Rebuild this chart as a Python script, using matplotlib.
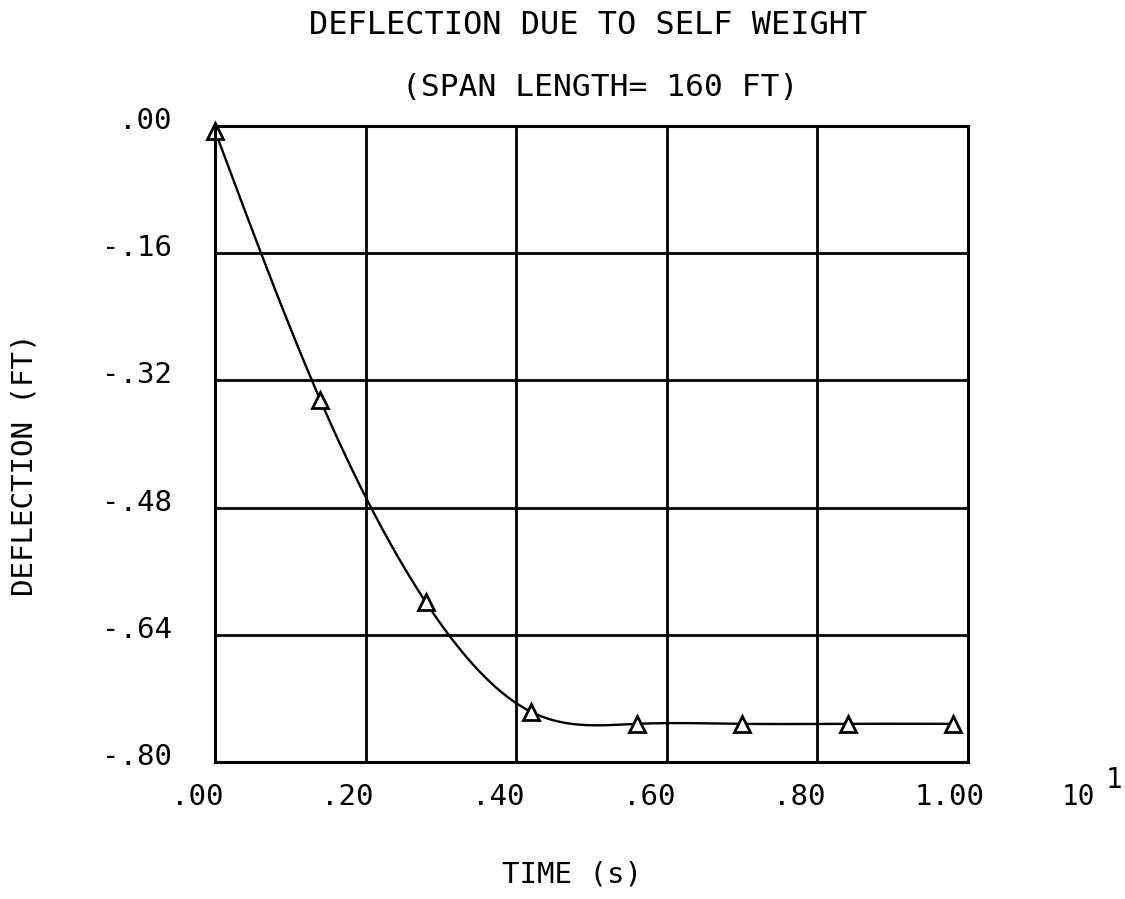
import numpy as np
import matplotlib.pyplot as plt
from matplotlib.transforms import ScaledTranslation

# --- Data: deflection at each time step (time in units of 10 s) ---
time = [0.00, 0.14, 0.28, 0.42, 0.56, 0.70, 0.84, 0.98]
deflection = [-0.006, -0.345, -0.599, -0.737, -0.752, -0.752, -0.752, -0.752]

x_ticks = [0.0, 0.2, 0.4, 0.6, 0.8, 1.0]
x_labels = ['.00', '.20', '.40', '.60', '.80', '1.00']
y_ticks = [0.0, -0.16, -0.32, -0.48, -0.64, -0.80]
y_labels = ['.00', '-.16', '-.32', '-.48', '-.64', '-.80']


def natural_spline(x, y, n=400):
    """Smooth curve through the points (natural cubic spline)."""
    x = np.asarray(x, float)
    y = np.asarray(y, float)
    k = len(x)
    h = np.diff(x)
    A = np.zeros((k, k))
    b = np.zeros(k)
    A[0, 0] = A[-1, -1] = 1.0
    for i in range(1, k - 1):
        A[i, i - 1] = h[i - 1]
        A[i, i] = 2 * (h[i - 1] + h[i])
        A[i, i + 1] = h[i]
        b[i] = 6 * ((y[i + 1] - y[i]) / h[i] - (y[i] - y[i - 1]) / h[i - 1])
    M = np.linalg.solve(A, b)
    xs = np.linspace(x[0], x[-1], n)
    idx = np.clip(np.searchsorted(x, xs) - 1, 0, k - 2)
    x0, x1 = x[idx], x[idx + 1]
    hh = x1 - x0
    t0, t1 = x1 - xs, xs - x0
    ys = (M[idx] * t0**3 + M[idx + 1] * t1**3) / (6 * hh) \
        + (y[idx] / hh - M[idx] * hh / 6) * t0 \
        + (y[idx + 1] / hh - M[idx + 1] * hh / 6) * t1
    return xs, ys


plt.rcParams['font.family'] = ['DejaVu Sans Mono']
W, H = 1125, 899
fig = plt.figure(figsize=(W / 100, H / 100), dpi=100)
ax = fig.add_axes([215 / W, 1 - 762 / H, (968 - 215) / W, (762 - 126) / H])

ax.set_xlim(0, 1.0)
ax.set_ylim(-0.80, 0.0)
ax.set_xticks(x_ticks)
ax.set_xticklabels(x_labels)
ax.set_yticks(y_ticks)
ax.set_yticklabels(y_labels)
ax.tick_params(length=0, labelsize=21)
ax.tick_params(axis='x', pad=15)
ax.tick_params(axis='y', pad=31)
ax.grid(True, color='black', linewidth=2.0)
for s in ax.spines.values():
    s.set_linewidth(2.2)

# shift tick labels a little (x labels left, y labels up)
for lab in ax.get_xticklabels():
    lab.set_transform(lab.get_transform() + ScaledTranslation(-18 / 100, 0, fig.dpi_scale_trans))
for lab in ax.get_yticklabels():
    lab.set_transform(lab.get_transform() + ScaledTranslation(0, 8 / 100, fig.dpi_scale_trans))

xs, ys = natural_spline(time, deflection)
ax.plot(xs, ys, color='black', linewidth=1.7, clip_on=False)
ax.plot(time, deflection, linestyle='none', marker='^', markersize=11,
        markerfacecolor='white', markeredgecolor='black', markeredgewidth=2.0,
        clip_on=False)

fig.text(588 / W, 1 - 26 / H, 'DEFLECTION DUE TO SELF WEIGHT', ha='center',
         va='center', fontsize=23)
fig.text(600 / W, 1 - 88 / H, '(SPAN LENGTH= 160 FT)', ha='center',
         va='center', fontsize=22.5)
fig.text(25 / W, 1 - 465 / H, 'DEFLECTION (FT)', ha='center', va='center',
         rotation=90, fontsize=21)
fig.text(572 / W, 1 - 875 / H, 'TIME (s)', ha='center', va='center', fontsize=21)
fig.text(1062 / W, 1 - 797 / H, '10', ha='left', va='center', fontsize=20)
fig.text(1106 / W, 1 - 780 / H, '1', ha='left', va='center', fontsize=20)

fig.savefig('out.png', dpi=100)
